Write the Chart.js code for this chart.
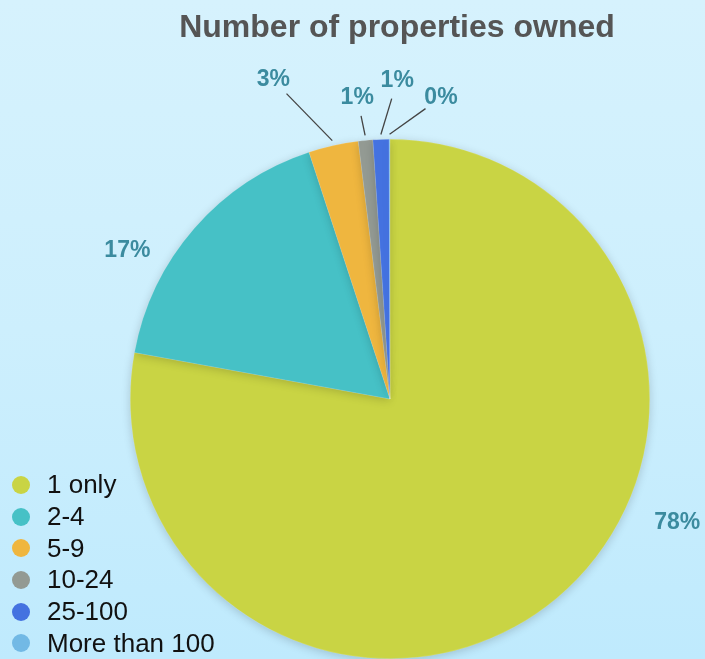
<!DOCTYPE html>
<html>
<head>
<meta charset="utf-8">
<script src="https://cdn.jsdelivr.net/npm/chart.js@4/dist/chart.umd.min.js"></script>
<style>
  body { margin: 0; }
  #wrap {
    position: relative;
    width: 705px;
    height: 659px;
    overflow: hidden;
    background: linear-gradient(to bottom, #d6f2fd 0%, #cdeffd 50%, #bfeafd 100%);
    font-family: "Liberation Sans", Arial, sans-serif;
  }
  #legend {
    position: absolute;
    left: 12px;
    top: 469px;
  }
  .row { height: 31.7px; display: flex; align-items: center; font-size: 26px; color: #111; }
  .dot { width: 18px; height: 18px; border-radius: 50%; margin-right: 17px; }
</style>
</head>
<body>
<div id="wrap">
  <canvas id="pie" width="705" height="659"></canvas>
  <div id="legend"></div>
</div>
<script>
// Data
const labels = ['1 only', '2-4', '5-9', '10-24', '25-100', 'More than 100'];
const values = [77.9, 17.1, 3.1, 0.9, 1.0, 0.05];
const colors = ['#c9d444', '#46c1c6', '#efb63f', '#939a93', '#4472e0', '#72b9e5'];
const chartTitle = 'Number of properties owned';

// label placement around the pie: angle from top (deg), distance as factor of radius
const labelAngle = [113.3, 299.5, 339.9, 353.8, 1.3, 9.6];
const labelDist = [1.204, 1.162, 1.308, 1.169, 1.227, 1.177];
const withLeader = [false, false, true, true, true, true];

// Legend (html)
const legendEl = document.getElementById('legend');
labels.forEach((l, i) => {
  const row = document.createElement('div');
  row.className = 'row';
  row.innerHTML = '<span class="dot" style="background:' + colors[i] + '"></span><span>' + l + '</span>';
  legendEl.appendChild(row);
});

// shadow under the pie
const shadowPlugin = {
  id: 'pieShadow',
  beforeDatasetsDraw(chart) {
    const ctx = chart.ctx;
    ctx.save();
    ctx.shadowColor = 'rgba(0,0,0,0.18)';
    ctx.shadowBlur = 10;
    ctx.shadowOffsetY = 2;
  },
  afterDatasetsDraw(chart) {
    chart.ctx.restore();
  }
};

// title + percentage labels with leader lines
const labelPlugin = {
  id: 'pctLabels',
  afterDraw(chart) {
    const ctx = chart.ctx;
    const arcs = chart.getDatasetMeta(0).data;
    const total = values.reduce((a, b) => a + b, 0);
    const cx = arcs[0].x, cy = arcs[0].y, r = arcs[0].outerRadius;

    ctx.save();
    ctx.fillStyle = '#555555';
    ctx.font = 'bold 32px "Liberation Sans", Arial, sans-serif';
    ctx.textAlign = 'center';
    ctx.textBaseline = 'middle';
    ctx.fillText(chartTitle, 397, 28);

    ctx.font = 'bold 23px "Liberation Sans", Arial, sans-serif';
    arcs.forEach((arc, i) => {
      const a = labelAngle[i] * Math.PI / 180;
      const lx = cx + Math.sin(a) * r * labelDist[i];
      const ly = cy - Math.cos(a) * r * labelDist[i];
      if (withLeader[i]) {
        const mid = (arc.startAngle + arc.endAngle) / 2;
        const ex = cx + Math.cos(mid) * (r + 5);
        const ey = cy + Math.sin(mid) * (r + 5);
        const dx = lx - ex, dy = ly - ey;
        const len = Math.sqrt(dx * dx + dy * dy);
        const k = (len - 19) / len;
        ctx.strokeStyle = '#444';
        ctx.lineWidth = 1.3;
        ctx.beginPath();
        ctx.moveTo(ex, ey);
        ctx.lineTo(ex + dx * k, ey + dy * k);
        ctx.stroke();
      }
      ctx.fillStyle = '#3b8b9f';
      ctx.fillText(Math.round(values[i] / total * 100) + '%', lx, ly);
    });
    ctx.restore();
  }
};

new Chart(document.getElementById('pie'), {
  type: 'pie',
  data: {
    labels: labels,
    datasets: [{
      data: values,
      backgroundColor: colors,
      borderColor: 'rgba(255,255,255,0.2)',
      borderWidth: 0.6
    }]
  },
  options: {
    responsive: false,
    animation: false,
    layout: { padding: { top: 139, left: 130, right: 55, bottom: 0 } },
    plugins: {
      legend: { display: false },
      tooltip: { enabled: false }
    }
  },
  plugins: [shadowPlugin, labelPlugin]
});
</script>
</body>
</html>
